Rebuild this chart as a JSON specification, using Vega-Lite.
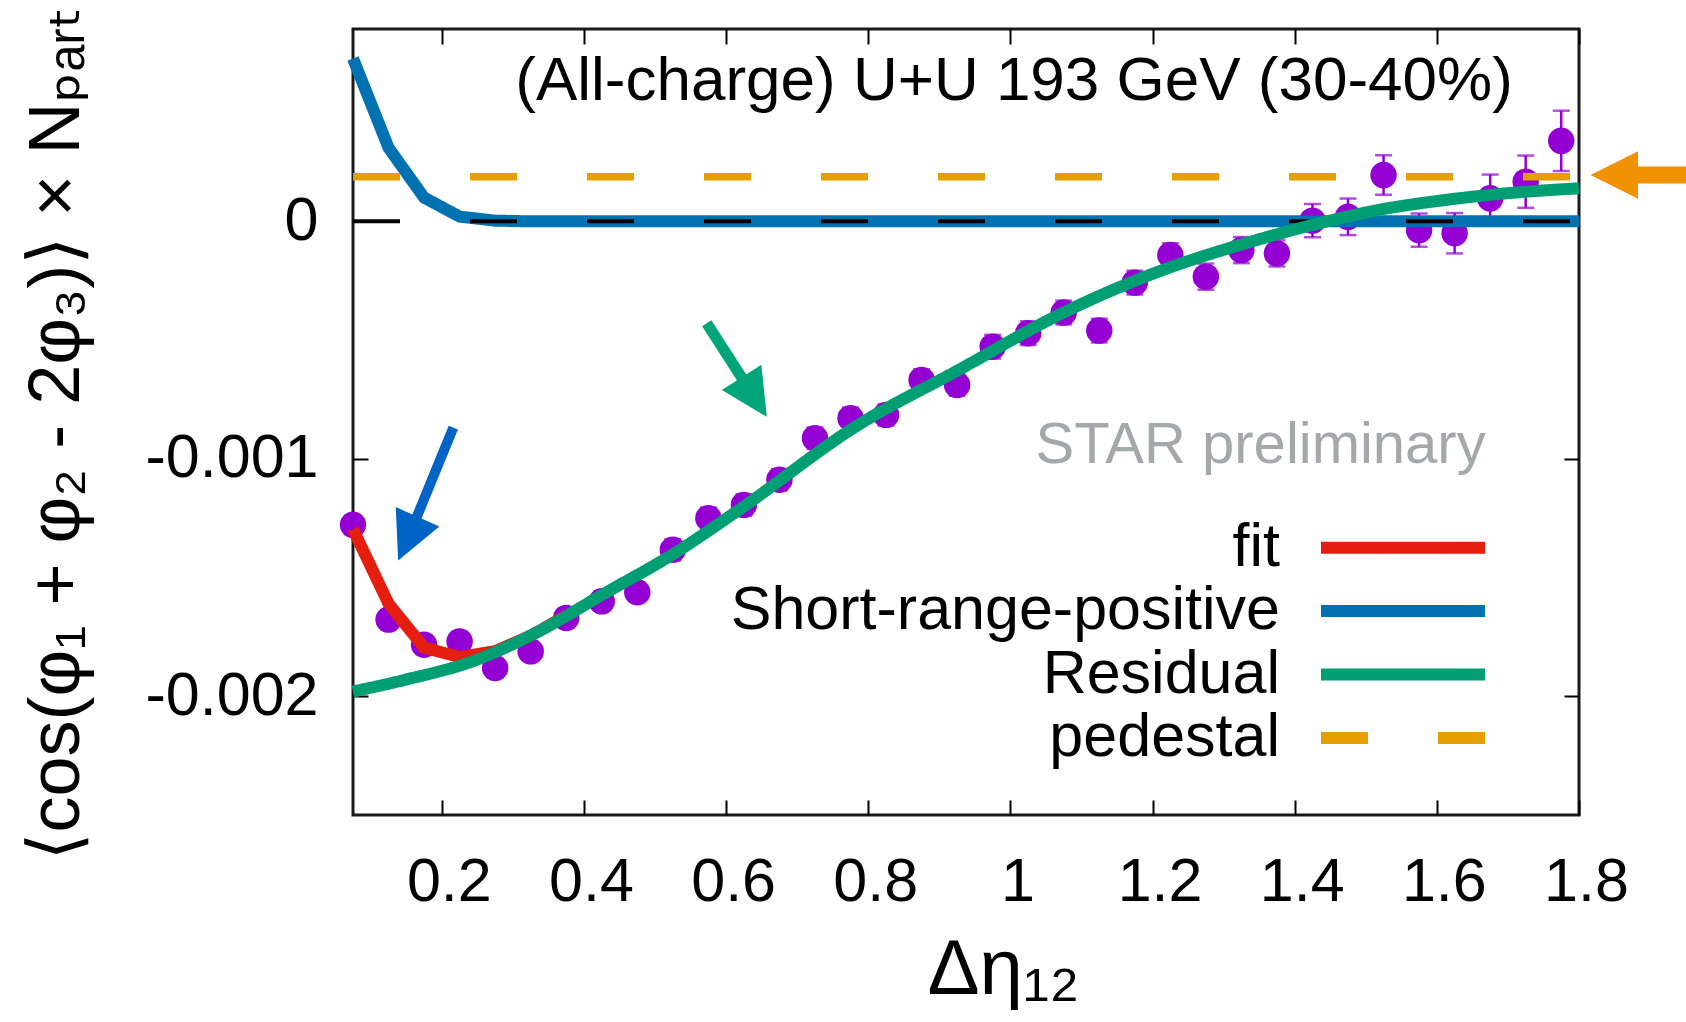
{
  "$schema": "https://vega.github.io/schema/vega-lite/v6.json",
  "width": 1226,
  "height": 786,
  "autosize": {"type": "none"},
  "padding": {"left": 353, "top": 29, "right": 107, "bottom": 207},
  "background": "white",
  "config": {
    "font": "Liberation Sans, DejaVu Sans, sans-serif",
    "view": {"stroke": "#1a1a1a", "strokeWidth": 3},
    "axis": {
      "domain": false, "grid": false, "tickColor": "black", "tickWidth": 2, "tickSize": -15,
      "labelColor": "black", "labelFont": "Liberation Sans, DejaVu Sans, sans-serif", "labelFontSize": 61,
      "titleColor": "black", "titleFont": "Liberation Sans, DejaVu Sans, sans-serif", "titleFontWeight": "normal",
      "labelFlush": false, "labelOverlap": false, "labelBound": false
    },
    "legend": {
      "orient": "none", "legendX": 1019.5, "legendY": 488.2, "direction": "vertical",
      "symbolType": "M-4,0L4,0", "symbolSize": 1681, "symbolStrokeWidth": 12,
      "labelFont": "Liberation Sans, DejaVu Sans, sans-serif", "labelFontSize": 61, "labelColor": "black",
      "labelAlign": "right", "labelBaseline": "middle", "labelOffset": -153.5, "labelLimit": 1000,
      "rowPadding": 1.4, "padding": 0
    }
  },
  "datasets": {
    "points": [
      {"x": 0.075, "y": -0.001278, "lo": -0.001318, "hi": -0.001238},
      {"x": 0.125, "y": -0.001677, "lo": -0.001717, "hi": -0.001637},
      {"x": 0.175, "y": -0.001783, "lo": -0.001823, "hi": -0.001743},
      {"x": 0.225, "y": -0.001769, "lo": -0.001809, "hi": -0.001729},
      {"x": 0.275, "y": -0.001881, "lo": -0.001921, "hi": -0.001841},
      {"x": 0.325, "y": -0.001811, "lo": -0.001851, "hi": -0.001771},
      {"x": 0.375, "y": -0.00167, "lo": -0.00171, "hi": -0.00163},
      {"x": 0.425, "y": -0.0016, "lo": -0.00164, "hi": -0.00156},
      {"x": 0.475, "y": -0.001562, "lo": -0.001602, "hi": -0.001522},
      {"x": 0.525, "y": -0.001383, "lo": -0.001428, "hi": -0.001338},
      {"x": 0.575, "y": -0.00125, "lo": -0.001295, "hi": -0.001205},
      {"x": 0.625, "y": -0.001194, "lo": -0.001239, "hi": -0.001149},
      {"x": 0.675, "y": -0.001088, "lo": -0.001133, "hi": -0.001043},
      {"x": 0.725, "y": -0.000913, "lo": -0.000958, "hi": -0.000868},
      {"x": 0.775, "y": -0.000829, "lo": -0.000874, "hi": -0.000784},
      {"x": 0.825, "y": -0.000815, "lo": -0.00086, "hi": -0.00077},
      {"x": 0.875, "y": -0.000668, "lo": -0.000713, "hi": -0.000623},
      {"x": 0.925, "y": -0.000689, "lo": -0.000734, "hi": -0.000644},
      {"x": 0.975, "y": -0.000528, "lo": -0.000578, "hi": -0.000478},
      {"x": 1.025, "y": -0.000471, "lo": -0.000521, "hi": -0.000421},
      {"x": 1.075, "y": -0.000384, "lo": -0.000434, "hi": -0.000334},
      {"x": 1.125, "y": -0.00046, "lo": -0.00051, "hi": -0.00041},
      {"x": 1.175, "y": -0.000258, "lo": -0.000308, "hi": -0.000208},
      {"x": 1.225, "y": -0.000142, "lo": -0.000192, "hi": -0.000092},
      {"x": 1.275, "y": -0.000233, "lo": -0.000288, "hi": -0.000178},
      {"x": 1.325, "y": -0.000121, "lo": -0.000176, "hi": -0.000066},
      {"x": 1.375, "y": -0.000135, "lo": -0.00019, "hi": -0.00008},
      {"x": 1.425, "y": 0.000003, "lo": -0.000067, "hi": 0.000073},
      {"x": 1.475, "y": 0.000019, "lo": -0.000058, "hi": 0.000096},
      {"x": 1.525, "y": 0.000195, "lo": 0.000112, "hi": 0.000278},
      {"x": 1.575, "y": -0.000037, "lo": -0.000107, "hi": 0.000033},
      {"x": 1.625, "y": -0.00005, "lo": -0.000135, "hi": 0.000035},
      {"x": 1.675, "y": 0.000097, "lo": -0.000003, "hi": 0.000197},
      {"x": 1.725, "y": 0.000167, "lo": 0.000057, "hi": 0.000277},
      {"x": 1.775, "y": 0.000339, "lo": 0.000212, "hi": 0.000466}
    ],
    "curves": [
      {"series": "fit", "x": 0.075, "y": -0.001296},
      {"series": "fit", "x": 0.125, "y": -0.00161},
      {"series": "fit", "x": 0.175, "y": -0.001795},
      {"series": "fit", "x": 0.225, "y": -0.001835},
      {"series": "fit", "x": 0.275, "y": -0.00181},
      {"series": "fit", "x": 0.325, "y": -0.001745},
      {"series": "fit", "x": 0.375, "y": -0.00166},
      {"series": "Short-range-positive", "x": 0.075, "y": 0.000686},
      {"series": "Short-range-positive", "x": 0.125, "y": 0.00031},
      {"series": "Short-range-positive", "x": 0.175, "y": 0.0001},
      {"series": "Short-range-positive", "x": 0.225, "y": 0.00002},
      {"series": "Short-range-positive", "x": 0.275, "y": 0.000003},
      {"series": "Short-range-positive", "x": 0.325, "y": 0},
      {"series": "Short-range-positive", "x": 1.8, "y": 0},
      {"series": "Residual", "x": 0.075, "y": -0.00198},
      {"series": "Residual", "x": 0.149, "y": -0.00193},
      {"series": "Residual", "x": 0.243, "y": -0.001853},
      {"series": "Residual", "x": 0.336, "y": -0.001727},
      {"series": "Residual", "x": 0.43, "y": -0.001565},
      {"series": "Residual", "x": 0.524, "y": -0.001404},
      {"series": "Residual", "x": 0.618, "y": -0.001215},
      {"series": "Residual", "x": 0.786, "y": -0.000857},
      {"series": "Residual", "x": 0.927, "y": -0.000626},
      {"series": "Residual", "x": 1.068, "y": -0.000394},
      {"series": "Residual", "x": 1.208, "y": -0.000212},
      {"series": "Residual", "x": 1.33, "y": -0.000093},
      {"series": "Residual", "x": 1.424, "y": -0.000016},
      {"series": "Residual", "x": 1.518, "y": 0.000048},
      {"series": "Residual", "x": 1.612, "y": 0.00009},
      {"series": "Residual", "x": 1.705, "y": 0.00012},
      {"series": "Residual", "x": 1.8, "y": 0.000139},
      {"series": "pedestal", "x": 0.075, "y": 0.000188},
      {"series": "pedestal", "x": 1.8, "y": 0.000188}
    ]
  },
  "encoding": {
    "x": {"field": "x", "type": "quantitative", "scale": {"domain": [0.075, 1.8], "nice": false, "zero": false}, "axis": null},
    "y": {"field": "y", "type": "quantitative", "scale": {"domain": [-0.0025, 0.00081], "nice": false, "zero": false}, "axis": null}
  },
  "resolve": {"axis": {"x": "independent", "y": "independent"}},
  "layer": [
    {
      "data": {"name": "points"},
      "mark": {"type": "rule", "color": "#9400D3", "strokeWidth": 2.5},
      "encoding": {
        "x": {"field": "x", "type": "quantitative", "scale": {"domain": [0.075, 1.8], "nice": false, "zero": false},
          "axis": {"orient": "bottom", "values": [0.2, 0.4, 0.6, 0.8, 1, 1.2, 1.4, 1.6, 1.8], "format": "~g",
            "labelPadding": 100, "labelBaseline": "alphabetic", "labelOffset": 7,
            "title": "Δη₁₂", "titleFontSize": 78, "titleX": 650, "titleY": 178, "titleBaseline": "alphabetic", "titleAlign": "center", "titleAngle": 0}},
        "y": {"field": "lo", "type": "quantitative", "scale": {"domain": [-0.0025, 0.00081], "nice": false, "zero": false},
          "axis": {"orient": "left", "values": [-0.002, -0.001, 0],
            "labelExpr": "datum.value == 0 ? '0' : '-' + format(-datum.value, '~g')",
            "labelPadding": 50, "labelAlign": "right", "labelBaseline": "middle",
            "title": "⟨cos(φ₁ + φ₂ - 2φ₃)⟩ × Nₚₐᵣₜ", "titleFontSize": 72, "titleX": -275, "titleY": 404,
            "titleBaseline": "alphabetic", "titleAlign": "center", "titleAngle": -90}},
        "y2": {"field": "hi"}
      }
    },
    {
      "data": {"name": "points"},
      "mark": {"type": "tick", "orient": "horizontal", "color": "#9400D3", "size": 17, "thickness": 2.5},
      "encoding": {"y": {"field": "lo", "type": "quantitative", "scale": {"domain": [-0.0025, 0.00081], "nice": false, "zero": false}, "axis": null}}
    },
    {
      "data": {"name": "points"},
      "mark": {"type": "tick", "orient": "horizontal", "color": "#9400D3", "size": 17, "thickness": 2.5},
      "encoding": {"y": {"field": "hi", "type": "quantitative", "scale": {"domain": [-0.0025, 0.00081], "nice": false, "zero": false}, "axis": null}}
    },
    {
      "data": {"name": "points"},
      "mark": {"type": "circle", "color": "#9400D3", "size": 700, "opacity": 1}
    },
    {
      "data": {"name": "curves"},
      "transform": [{"filter": "datum.series === 'fit'"}],
      "mark": {"type": "line", "strokeWidth": 12},
      "encoding": {
        "color": {"field": "series", "type": "nominal", "title": null, "scale": {"domain": ["fit", "Short-range-positive", "Residual", "pedestal"], "range": ["#E51E10", "#0072B2", "#009E73", "#E69F00"]}},
        "strokeDash": {"field": "series", "type": "nominal", "title": null, "scale": {"domain": ["fit", "Short-range-positive", "Residual", "pedestal"], "range": [[1, 0], [1, 0], [1, 0], [47, 70]]}}
      }
    },
    {
      "data": {"name": "curves"},
      "transform": [{"filter": "datum.series === 'Short-range-positive'"}],
      "mark": {"type": "line", "strokeWidth": 12},
      "encoding": {
        "color": {"field": "series", "type": "nominal", "title": null, "scale": {"domain": ["fit", "Short-range-positive", "Residual", "pedestal"], "range": ["#E51E10", "#0072B2", "#009E73", "#E69F00"]}},
        "strokeDash": {"field": "series", "type": "nominal", "title": null, "scale": {"domain": ["fit", "Short-range-positive", "Residual", "pedestal"], "range": [[1, 0], [1, 0], [1, 0], [47, 70]]}}
      }
    },
    {
      "data": {"values": [{"x": 0.075, "y": 0}, {"x": 1.8, "y": 0}]},
      "mark": {"type": "line", "color": "black", "strokeWidth": 4, "strokeDash": [47, 70]},
      "encoding": {
        "x": {"field": "x", "type": "quantitative", "scale": {"domain": [0.075, 1.8], "nice": false, "zero": false},
          "axis": {"orient": "top", "values": [0.2, 0.4, 0.6, 0.8, 1, 1.2, 1.4, 1.6, 1.8], "labels": false, "title": null}},
        "y": {"field": "y", "type": "quantitative", "scale": {"domain": [-0.0025, 0.00081], "nice": false, "zero": false},
          "axis": {"orient": "right", "values": [-0.002, -0.001, 0], "labels": false, "title": null}}
      }
    },
    {
      "data": {"name": "curves"},
      "transform": [{"filter": "datum.series === 'Residual'"}],
      "mark": {"type": "line", "strokeWidth": 12, "interpolate": "monotone"},
      "encoding": {
        "color": {"field": "series", "type": "nominal", "title": null, "scale": {"domain": ["fit", "Short-range-positive", "Residual", "pedestal"], "range": ["#E51E10", "#0072B2", "#009E73", "#E69F00"]}},
        "strokeDash": {"field": "series", "type": "nominal", "title": null, "scale": {"domain": ["fit", "Short-range-positive", "Residual", "pedestal"], "range": [[1, 0], [1, 0], [1, 0], [47, 70]]}}
      }
    },
    {
      "data": {"name": "curves"},
      "transform": [{"filter": "datum.series === 'pedestal'"}],
      "mark": {"type": "line", "strokeWidth": 7.5},
      "encoding": {
        "color": {"field": "series", "type": "nominal", "title": null, "scale": {"domain": ["fit", "Short-range-positive", "Residual", "pedestal"], "range": ["#E51E10", "#0072B2", "#009E73", "#E69F00"]}},
        "strokeDash": {"field": "series", "type": "nominal", "title": null, "scale": {"domain": ["fit", "Short-range-positive", "Residual", "pedestal"], "range": [[1, 0], [1, 0], [1, 0], [47, 70]]}}
      }
    },
    {
      "data": {"values": [{"x": 0.2161, "y": -0.000869, "x2": 0.1522, "y2": -0.001336}]},
      "mark": {"type": "rule", "color": "#0063c6", "strokeWidth": 10},
      "encoding": {"x2": {"field": "x2"}, "y2": {"field": "y2"}}
    },
    {
      "data": {"values": [{"x": 0.1522, "y": -0.001336}]},
      "mark": {"type": "point", "shape": "M0,-1L-1,1L1,1Z", "filled": true, "color": "#0063c6", "opacity": 1, "size": 2280, "angle": 204}
    },
    {
      "data": {"values": [{"x": 0.5727, "y": -0.000429, "x2": 0.6395, "y2": -0.00074}]},
      "mark": {"type": "rule", "color": "#00a679", "strokeWidth": 11},
      "encoding": {"x2": {"field": "x2"}, "y2": {"field": "y2"}}
    },
    {
      "data": {"values": [{"x": 0.6395, "y": -0.00074}]},
      "mark": {"type": "point", "shape": "M0,-1L-1,1L1,1Z", "filled": true, "color": "#00a679", "opacity": 1, "size": 2200, "angle": 147.5}
    },
    {
      "data": {"values": [{"x": 1.8496, "y": 0.000195, "x2": 1.99, "y2": 0.000195}]},
      "mark": {"type": "rule", "color": "#f39200", "strokeWidth": 17},
      "encoding": {"x2": {"field": "x2"}, "y2": {"field": "y2"}}
    },
    {
      "data": {"values": [{"x": 1.8496, "y": 0.000195}]},
      "mark": {"type": "point", "shape": "M0,-1L-1,1L1,1Z", "filled": true, "color": "#f39200", "opacity": 1, "size": 2256, "angle": 270}
    },
    {
      "data": {"values": [{"label": "(All-charge) U+U 193 GeV (30-40%)", "x": 1.0051, "y": 0.000511}]},
      "mark": {"type": "text", "font": "Liberation Sans, DejaVu Sans, sans-serif", "fontSize": 62, "align": "center", "baseline": "alphabetic", "color": "black"},
      "encoding": {"text": {"field": "label"}}
    },
    {
      "data": {"values": [{"label": "STAR preliminary", "x": 1.6687, "y": -0.001016}]},
      "mark": {"type": "text", "font": "Liberation Sans, DejaVu Sans, sans-serif", "fontSize": 58, "align": "right", "baseline": "alphabetic", "color": "#a3a9a9"},
      "encoding": {"text": {"field": "label"}}
    }
  ]
}
